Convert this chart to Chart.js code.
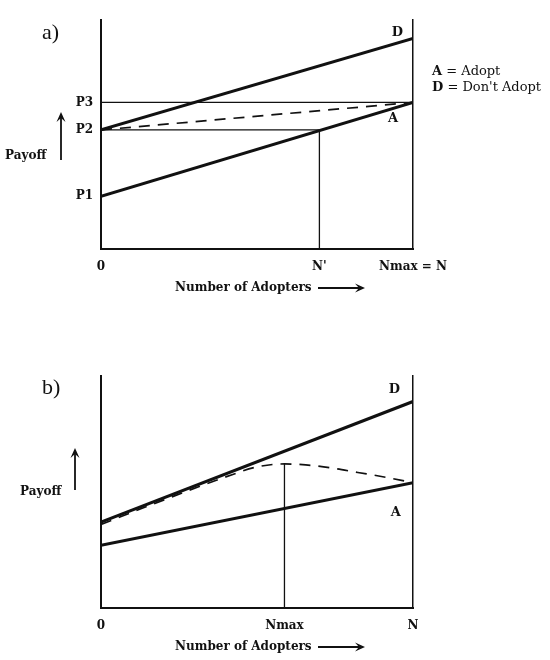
<!DOCTYPE html>
<html>
<head>
<meta charset="utf-8">
<script src="https://cdn.jsdelivr.net/npm/chart.js@4/dist/chart.umd.min.js"></script>
<style>
  body { margin: 0; background: #fff; width: 550px; height: 660px; position: relative; overflow: hidden; }
  .panel { position: absolute; left: 0; width: 550px; }
  #wrapA { top: 0; height: 300px; }
  #wrapB { top: 330px; height: 330px; }
</style>
</head>
<body>
<div class="panel" id="wrapA"><canvas id="chartA"></canvas></div>
<div class="panel" id="wrapB"><canvas id="chartB"></canvas></div>
<script>
// x: number of adopters (0..100 = N), y: payoff (0..100)

// panel a)
const aXTicks = [0, 70, 100];
const aXLabels = ["0", "N'", "Nmax = N"];
const aYTicks = [23, 52, 64];
const aYLabels = ["P1", "P2", "P3"];
const aDontAdopt = [[0, 52], [100, 92]];
const aAdopt = [[0, 23], [100, 64]];
const aAverage = [[0, 52], [100, 64]];
const aP3Line = [[0, 64], [100, 64]];
const aP2Line = [[0, 52], [70, 52]];
const aNPrime = [[70, 0], [70, 52]];

// panel b)
const bXTicks = [0, 58.8, 100];
const bXLabels = ["0", "Nmax", "N"];
const bDontAdopt = [[0, 37], [100, 89]];
const bAdopt = [[0, 27], [100, 54]];
const bAverage = [[0, 36], [20, 46.5], [40, 56.5], [50, 60.8], [58.8, 62.1], [65.6, 61.7], [74.3, 60.3], [82.3, 58.4], [89, 56.9], [100, 54]];
const bNmax = [[58.8, 0], [58.8, 62.1]];

const ink = "#111";
const serif = '"DejaVu Serif", serif';

const toPts = (arr) => arr.map(([x, y]) => ({ x, y }));

const thick = (pts) => ({ data: toPts(pts), borderColor: ink, borderWidth: 3, pointRadius: 0 });
const thin = (pts) => ({ data: toPts(pts), borderColor: ink, borderWidth: 1.3, pointRadius: 0 });
const dashed = (pts) => ({ data: toPts(pts), borderColor: ink, borderWidth: 1.7, borderDash: [11, 8], pointRadius: 0, cubicInterpolationMode: "monotone" });

function arrow(ctx, x1, y1, x2, y2) {
  const ang = Math.atan2(y2 - y1, x2 - x1);
  ctx.lineWidth = 1.8;
  ctx.beginPath();
  ctx.moveTo(x1, y1);
  ctx.lineTo(x2 - 5 * Math.cos(ang), y2 - 5 * Math.sin(ang));
  ctx.stroke();
  ctx.beginPath();
  ctx.moveTo(x2, y2);
  ctx.lineTo(x2 - 10 * Math.cos(ang) + 4.5 * Math.sin(ang), y2 - 10 * Math.sin(ang) - 4.5 * Math.cos(ang));
  ctx.lineTo(x2 - 6 * Math.cos(ang), y2 - 6 * Math.sin(ang));
  ctx.lineTo(x2 - 10 * Math.cos(ang) - 4.5 * Math.sin(ang), y2 - 10 * Math.sin(ang) + 4.5 * Math.cos(ang));
  ctx.closePath();
  ctx.fill();
}

const notesPlugin = {
  id: "notes",
  afterDraw(chart, args, opts) {
    const { ctx, chartArea: ca, scales: { x, y } } = chart;
    ctx.save();
    ctx.fillStyle = ink;
    ctx.strokeStyle = ink;
    ctx.textBaseline = "middle";

    // panel letter
    ctx.font = '22px "Liberation Serif"';
    ctx.textAlign = "left";
    ctx.fillText(opts.letter, 42, opts.letterY);

    // curve tags
    ctx.font = "bold 13px " + serif;
    ctx.textAlign = "center";
    opts.tags.forEach((t) => ctx.fillText(t.text, x.getPixelForValue(t.x), y.getPixelForValue(t.y)));

    // payoff label with arrow
    ctx.font = "bold 12px " + serif;
    ctx.textAlign = "left";
    ctx.fillText("Payoff", opts.payoff.x, opts.payoff.y);
    arrow(ctx, opts.payoff.ax, opts.payoff.y1, opts.payoff.ax, opts.payoff.y0);

    // x axis title
    ctx.fillText("Number of Adopters", 175, ca.bottom + 39);
    arrow(ctx, 318, ca.bottom + 39, 365, ca.bottom + 39);

    // legend
    if (opts.legend) {
      opts.legend.forEach((row, i) => {
        const ly = 72 + i * 16;
        ctx.font = "bold 13px " + serif;
        ctx.fillText(row[0], 432, ly);
        const w = ctx.measureText(row[0]).width;
        ctx.font = "13px " + serif;
        ctx.fillText(row[1], 432 + w, ly);
      });
    }
    ctx.restore();
  }
};

function makeChart(id, cfg) {
  return new Chart(document.getElementById(id), {
    type: "line",
    data: { datasets: cfg.datasets },
    options: {
      responsive: true,
      maintainAspectRatio: false,
      devicePixelRatio: 1,
      animation: false,
      layout: { padding: { top: cfg.top, right: 137, left: 0, bottom: 0 } },
      plugins: {
        legend: { display: false },
        tooltip: { enabled: false },
        notes: cfg.notes
      },
      scales: {
        x: {
          type: "linear",
          min: 0,
          max: 100,
          afterFit: (s) => { s.height = cfg.xAxisH; },
          afterBuildTicks: (s) => { s.ticks = cfg.xTicks.map((v) => ({ value: v })); },
          grid: { display: false, drawTicks: false },
          border: { color: ink, width: 2 },
          ticks: {
            autoSkip: false,
            maxRotation: 0,
            padding: 11,
            color: ink,
            font: { family: serif, size: 12, weight: "bold" },
            callback: (v, i) => cfg.xLabels[i]
          }
        },
        y: {
          type: "linear",
          min: 0,
          max: 100,
          afterFit: (s) => { s.width = 101; },
          afterBuildTicks: (s) => { s.ticks = cfg.yTicks.map((v) => ({ value: v })); },
          grid: { display: false, drawTicks: false },
          border: { color: ink, width: 2 },
          ticks: {
            autoSkip: false,
            padding: 8,
            color: ink,
            font: { family: serif, size: 12, weight: "bold" },
            callback: (v, i) => cfg.yLabels[i]
          }
        },
        y2: {
          type: "linear",
          position: "right",
          min: 0,
          max: 100,
          afterFit: (s) => { s.width = 0; },
          grid: { display: false, drawTicks: false },
          border: { color: ink, width: 1.5 },
          ticks: { display: false }
        }
      }
    },
    plugins: [notesPlugin]
  });
}

makeChart("chartA", {
  top: 20,
  xAxisH: 51,
  xTicks: aXTicks,
  xLabels: aXLabels,
  yTicks: aYTicks,
  yLabels: aYLabels,
  datasets: [
    thin(aP3Line),
    thin(aP2Line),
    thin(aNPrime),
    dashed(aAverage),
    thick(aDontAdopt),
    thick(aAdopt)
  ],
  notes: {
    letter: "a)",
    letterY: 33,
    tags: [{ text: "D", x: 95, y: 94.3 }, { text: "A", x: 93.6, y: 56.8 }],
    payoff: { x: 5, y: 156, ax: 61, y0: 112, y1: 160 },
    legend: [["A", " = Adopt"], ["D", " = Don't Adopt"]]
  }
});

makeChart("chartB", {
  top: 46,
  xAxisH: 52,
  xTicks: bXTicks,
  xLabels: bXLabels,
  yTicks: [],
  yLabels: [],
  datasets: [
    thin(bNmax),
    dashed(bAverage),
    thick(bDontAdopt),
    thick(bAdopt)
  ],
  notes: {
    letter: "b)",
    letterY: 58,
    tags: [{ text: "D", x: 94, y: 94 }, { text: "A", x: 94.5, y: 41 }],
    payoff: { x: 20, y: 162, ax: 75, y0: 118, y1: 160 }
  }
});
</script>
</body>
</html>
